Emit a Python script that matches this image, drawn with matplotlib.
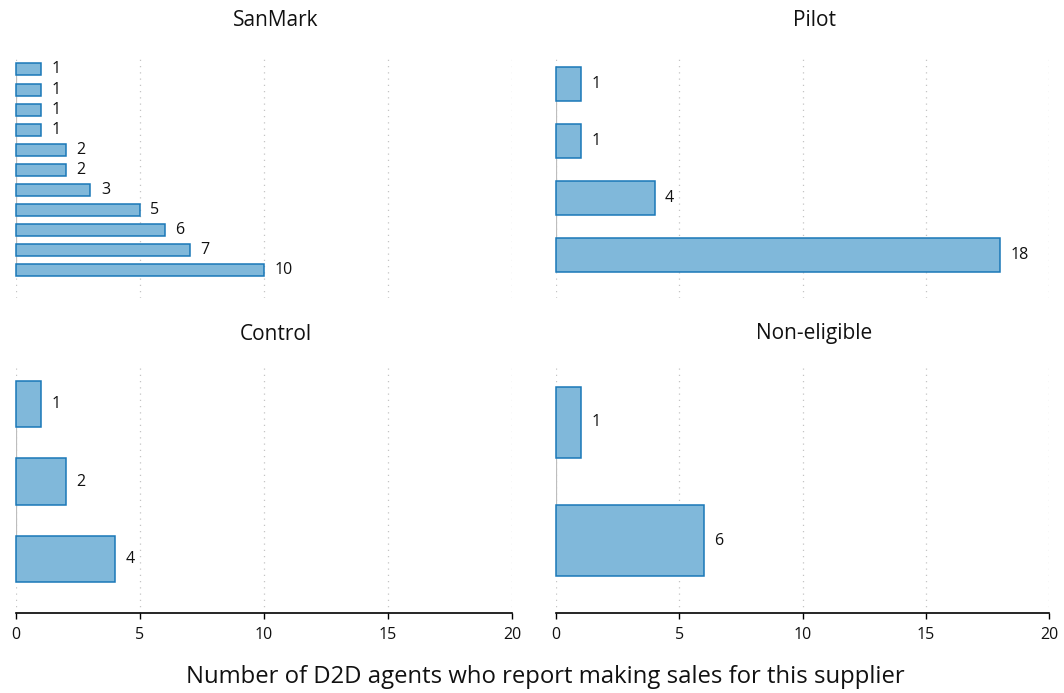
import matplotlib
matplotlib.use("Agg")
import matplotlib.pyplot as plt

plt.rcParams['font.family'] = ['Open Sans', 'DejaVu Sans']

# data (top to bottom within each panel)
panels = ['SanMark', 'Pilot', 'Control', 'Non-eligible']
sanmark = [1, 1, 1, 1, 2, 2, 3, 5, 6, 7, 10]
pilot = [1, 1, 4, 18]
control = [1, 2, 4]
non_eligible = [1, 6]
xticks = [0, 5, 10, 15, 20]
xlabel = 'Number of D2D agents who report making sales for this supplier'

fill = '#80b8da'
edge = '#1a78b8'

W, H = 1064, 693
fig = plt.figure(figsize=(W / 100, H / 100), dpi=100)


def px_axes(x0, x1, y0, y1):
    return fig.add_axes([x0 / W, 1 - y1 / H, (x1 - x0) / W, (y1 - y0) / H])


# (values, axes pixel box, top margin, bottom margin, bottom row?)
layout = [
    (sanmark, (16, 512, 57, 298), 0.62, 1.37, False),
    (pilot, (556, 1049, 57, 298), 0.47, 0.75, False),
    (control, (16, 512, 364, 613), 0.52, 0.70, True),
    (non_eligible, (556, 1049, 364, 613), 0.49, 0.61, True),
]

for name, (vals, box, mt, mb, bottom) in zip(panels, layout):
    ax = px_axes(*box)
    n = len(vals)
    pos = list(range(n))
    ax.set_xlim(0, 20)
    ax.set_ylim(n - 1 + mb, -mt)
    for x in xticks:
        ax.axvline(x, color='#c4c4c4', lw=0.9, ls=(0, (1, 4)), zorder=0)
    ax.plot([0, 0], [0, n - 1], color='#bdbdbd', lw=1.6, zorder=1,
            solid_capstyle='butt')
    ax.barh(pos, vals, height=0.6, color=fill, edgecolor=edge, lw=1.1,
            zorder=2, clip_on=False)
    for p, v in zip(pos, vals):
        ax.annotate(str(v), (v, p), xytext=(7.5, 0), textcoords='offset points',
                    va='center', ha='left', fontsize=11.5, color='#111111')
    for s in ['top', 'right', 'left']:
        ax.spines[s].set_visible(False)
    ax.set_yticks([])
    if bottom:
        ax.spines['bottom'].set_color('black')
        ax.spines['bottom'].set_linewidth(1.2)
        ax.set_xticks(xticks)
        ax.tick_params(axis='x', length=4, width=1, pad=6, labelsize=11.5,
                       labelcolor='#111111')
    else:
        ax.spines['bottom'].set_visible(False)
        ax.set_xticks([])
    # titles are centred a bit right of the plot region
    cx = (box[0] + box[1]) / 2 + 12
    ty = box[2] - 36 if box[2] < 100 else box[2] - 30
    fig.text(cx / W, 1 - ty / H, name, ha='center', va='center', fontsize=15,
             color='#111111')

fig.text(545 / W, 1 - 677 / H, xlabel, ha='center', va='center', fontsize=17.2,
         color='#111111')

fig.savefig('out.png', dpi=100, facecolor='white')
